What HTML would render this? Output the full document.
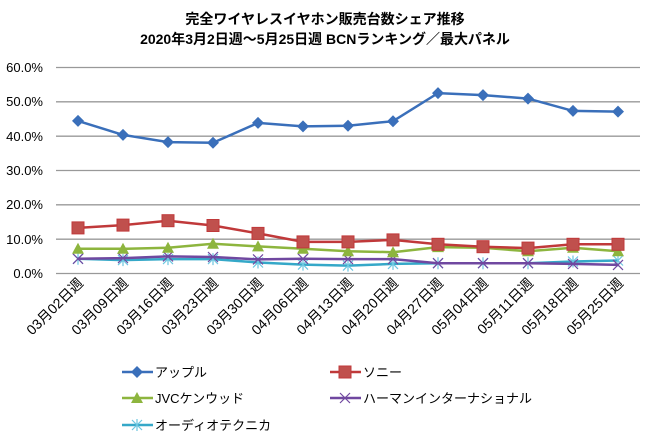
<!DOCTYPE html>
<html><head><meta charset="utf-8"><style>body{margin:0;background:#fff}svg{display:block}text{font-family:"Liberation Sans","Noto Sans CJK JP",sans-serif}</style></head><body>
<svg width="650" height="442" xmlns="http://www.w3.org/2000/svg">
<defs>
<marker id="ma" markerUnits="userSpaceOnUse" markerWidth="14" markerHeight="14" refX="7" refY="7" overflow="visible"><polygon points="7,1 13,7 7,13 1,7" fill="#3a6fba"/></marker>
<marker id="ms" markerUnits="userSpaceOnUse" markerWidth="14" markerHeight="14" refX="7" refY="7" overflow="visible"><rect x="1" y="1" width="12" height="12" fill="#c0504d" stroke="#c0393a"/></marker>
<marker id="mj" markerUnits="userSpaceOnUse" markerWidth="14" markerHeight="14" refX="7" refY="7" overflow="visible"><polygon points="7,1 13,12 1,12" fill="#8db53e"/></marker>
<marker id="mh" markerUnits="userSpaceOnUse" markerWidth="14" markerHeight="14" refX="7" refY="7" overflow="visible"><path d="M2 2L12 12M2 12L12 2" stroke="#7048a0" stroke-width="1.2"/></marker>
<marker id="mt" markerUnits="userSpaceOnUse" markerWidth="14" markerHeight="14" refX="7" refY="7" overflow="visible"><path d="M2 2L12 12M2 12L12 2M7 1V13" stroke="#6cc6e0" stroke-width="1.2"/></marker>
</defs>
<text x="325" y="24" text-anchor="middle" font-size="14" font-weight="bold">完全ワイヤレスイヤホン販売台数シェア推移</text>
<text x="325" y="44" text-anchor="middle" font-size="14" font-weight="bold">2020年3月2日週～5月25日週  BCNランキング／最大パネル</text>
<g stroke="#999" stroke-width="1.3">
<line x1="56" x2="640" y1="67.5" y2="67.5"/><line x1="56" x2="640" y1="101.8" y2="101.8"/><line x1="56" x2="640" y1="136.2" y2="136.2"/><line x1="56" x2="640" y1="170.5" y2="170.5"/><line x1="56" x2="640" y1="204.8" y2="204.8"/><line x1="56" x2="640" y1="239.2" y2="239.2"/><line x1="56" x2="640" y1="273.5" y2="273.5"/>
</g>
<g font-size="13" text-anchor="end" fill="#000">
<text x="43" y="72">60.0%</text><text x="43" y="106">50.0%</text><text x="43" y="141">40.0%</text><text x="43" y="175">30.0%</text><text x="43" y="209">20.0%</text><text x="43" y="244">10.0%</text><text x="43" y="278">0.0%</text>
</g>
<g fill="none" stroke-width="2.5">
<polyline stroke="#35a8c8" marker-start="url(#mt)" marker-mid="url(#mt)" marker-end="url(#mt)" points="78,258.8 123,260.1 168,259.1 213,259.1 258,262.5 303,264.6 348,265.6 393,263.9 438,263.2 483,263.2 528,263.2 573,261.5 618,260.5"/>
<polyline stroke="#7048a0" marker-start="url(#mh)" marker-mid="url(#mh)" marker-end="url(#mh)" points="78,258.8 123,258.1 168,256.4 213,257 258,259.4 303,258.8 348,259.1 393,259.1 438,263.2 483,263.2 528,263.2 573,263.9 618,264.9"/>
<polyline stroke="#8db53e" marker-start="url(#mj)" marker-mid="url(#mj)" marker-end="url(#mj)" points="78,248.8 123,248.8 168,247.8 213,243.7 258,246.4 303,248.8 348,251.2 393,252.2 438,247.1 483,247.8 528,251.2 573,247.8 618,251.2"/>
<polyline stroke="#c0393a" marker-start="url(#ms)" marker-mid="url(#ms)" marker-end="url(#ms)" points="78,227.9 123,225.1 168,220.7 213,225.5 258,233.4 303,241.9 348,241.9 393,239.9 438,244.3 483,246.7 528,248.1 573,244.3 618,244.3"/>
<polyline stroke="#3a6fba" marker-start="url(#ma)" marker-mid="url(#ma)" marker-end="url(#ma)" points="78,120.9 123,134.9 168,142.1 213,142.8 258,122.9 303,126.4 348,125.7 393,121.2 438,93.1 483,95.1 528,98.6 573,110.9 618,111.6"/>
</g>
<g font-size="14" text-anchor="end">
<text transform="translate(84,284) rotate(-45)">03月02日週</text>
<text transform="translate(129,284) rotate(-45)">03月09日週</text>
<text transform="translate(174,284) rotate(-45)">03月16日週</text>
<text transform="translate(219,284) rotate(-45)">03月23日週</text>
<text transform="translate(264,284) rotate(-45)">03月30日週</text>
<text transform="translate(309,284) rotate(-45)">04月06日週</text>
<text transform="translate(354,284) rotate(-45)">04月13日週</text>
<text transform="translate(399,284) rotate(-45)">04月20日週</text>
<text transform="translate(444,284) rotate(-45)">04月27日週</text>
<text transform="translate(489,284) rotate(-45)">05月04日週</text>
<text transform="translate(534,284) rotate(-45)">05月11日週</text>
<text transform="translate(579,284) rotate(-45)">05月18日週</text>
<text transform="translate(624,284) rotate(-45)">05月25日週</text>
</g>
<g stroke-width="2.5" fill="none">
<polyline stroke="#3a6fba" points="122,372 137,372 153,372" marker-mid="url(#ma)"/>
<polyline stroke="#c0393a" points="330,372 345,372 361,372" marker-mid="url(#ms)"/>
<polyline stroke="#8db53e" points="122,398 137,398 153,398" marker-mid="url(#mj)"/>
<polyline stroke="#7048a0" points="330,398 345,398 361,398" marker-mid="url(#mh)"/>
<polyline stroke="#35a8c8" points="122,425 137,425 153,425" marker-mid="url(#mt)"/>
</g>
<g font-size="13">
<text x="155" y="377">アップル</text>
<text x="363" y="377">ソニー</text>
<text x="155" y="403">JVCケンウッド</text>
<text x="363" y="403">ハーマンインターナショナル</text>
<text x="155" y="430">オーディオテクニカ</text>
</g>
</svg>
</body></html>
